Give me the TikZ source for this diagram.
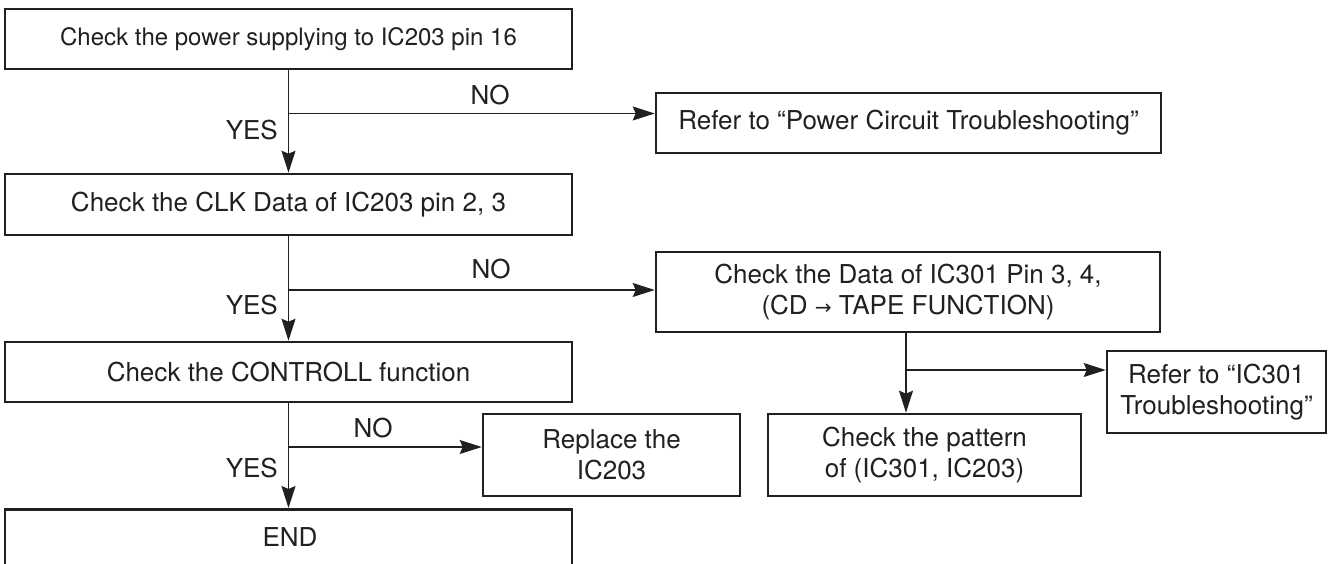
\documentclass[tikz,border=0pt]{standalone}
\usepackage{fontspec}
\setmainfont{TeX Gyre Heros}
\newfontfamily\symfont{DejaVu Sans}
\usetikzlibrary{arrows.meta}
\definecolor{ink}{HTML}{231F20}
\tikzset{
  box/.style={draw=ink, line width=2.6pt, inner sep=0pt, align=center, text=ink,
    font=\fontsize{26}{31}\selectfont},
  txt/.style={inner sep=0pt, text=ink, font=\fontsize{26}{31}\selectfont},
  conn/.style={draw=ink, line width=1.3pt},
  arr/.style={conn, -{Stealth[length=22pt,width=14pt,inset=3pt]}},
}
\begin{document}
\begin{tikzpicture}[x=1pt,y=-1pt]
\useasboundingbox (0,0) rectangle (1332,564);
% boxes
\node[box, minimum width=567pt, minimum height=60pt, font=\fontsize{24}{29}\selectfont] (b1) at (288.5,39) {Check the power supplying to IC203 pin 16};
\node[box, minimum width=505pt, minimum height=60pt] (pow) at (908.5,123) {Refer to “Power Circuit Troubleshooting”};
\node[box, minimum width=567pt, minimum height=61pt] (b2) at (288.5,204.5) {Check the CLK Data of IC203 pin 2, 3};
\node[box, minimum width=504pt, minimum height=80pt] (data) at (908,292) {Check the Data of IC301 Pin 3, 4,\\(CD {\symfont\fontsize{20}{20}\selectfont →} TAPE FUNCTION)};
\node[box, minimum width=567pt, minimum height=60pt] (b3) at (288.5,372) {Check the CONTROLL function};
\node[box, minimum width=219pt, minimum height=82pt] (ic) at (1216.5,392) {Refer to “IC301\\Troubleshooting”};
\node[box, minimum width=313pt, minimum height=82pt] (pat) at (924.5,455) {Check the pattern\\of (IC301, IC203)};
\node[box, minimum width=257pt, minimum height=82pt] (rep) at (611.5,455) {Replace the\\IC203};
\begin{scope}
\clip (0,0) rectangle (1332,564);
\node[box, minimum width=567pt, minimum height=100pt, anchor=north] (endbox) at (288.5,508) {};
\end{scope}
\node[txt] (endt) at (290,537) {END};
% junctions
\coordinate (j1) at (288.5,113.5);
\coordinate (j2) at (288.5,290);
\coordinate (j3) at (288.5,447);
\coordinate (d1) at (906,332);
\coordinate (j4) at (906,370);
% connectors
\draw[arr] (b1.south) -- (b2.north);
\draw[arr] (j1) -- (j1 -| pow.west);
\draw[arr] (b2.south) -- (b3.north);
\draw[arr] (j2) -- (j2 -| data.west);
\draw[arr] (b3.south) -- (endbox.north);
\draw[arr] (j3) -- (j3 -| rep.west);
\draw[arr] (d1) -- (d1 |- pat.north);
\draw[arr] (j4) -- (j4 -| ic.west);
% labels
\node[txt] (no1) at (490,95) {NO};
\node[txt, anchor=east] (yes1) at (278,130) {YES};
\node[txt] (no2) at (491,269) {NO};
\node[txt, anchor=east] (yes2) at (278,305) {YES};
\node[txt] (no3) at (373,428) {NO};
\node[txt, anchor=east] (yes3) at (278,468) {YES};
\end{tikzpicture}
\end{document}
